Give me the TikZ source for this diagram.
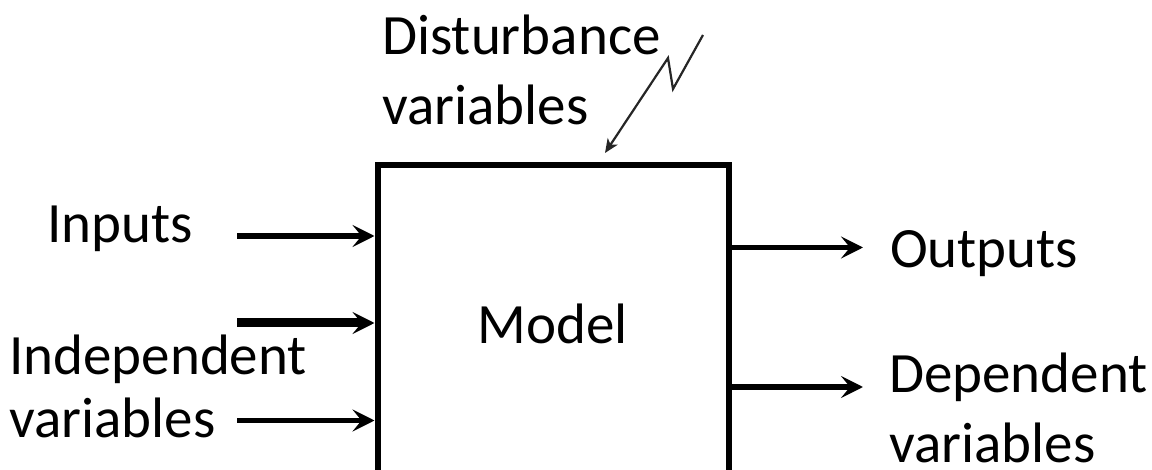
\documentclass[tikz,border=0pt]{standalone}
\usepackage{fontspec}
\setmainfont{Carlito}
\usetikzlibrary{arrows.meta}
\begin{document}
\begin{tikzpicture}[x=1pt,y=-1pt,
  lbl/.style={inner sep=0pt, anchor=base west, align=left, text depth=0pt, font=\fontsize{57}{70}\selectfont},
  lblnarrow/.style={lbl, font=\fontsize{57}{63}\selectfont},
  modelbox/.style={draw, line width=6pt, minimum width=351pt, minimum height=317pt, inner sep=0pt, font=\fontsize{57}{66}\selectfont},
  arr/.style={line width=5.5pt, -{Stealth[length=22pt,width=22pt,inset=9pt]}},
  thickarr/.style={arr, line width=9pt},
  disturb/.style={line width=2.2pt, black!85, line join=miter, -{Stealth[length=14pt,width=12pt,inset=4pt]}}
]
\useasboundingbox (0,0) rectangle (1152,470);
\clip (0,0) rectangle (1152,470);

\node[modelbox] (model) at (553,323.5) {Model};

% base anchor of a multi-line node = baseline of its last line
\node[lbl] (dist) at (382,125) {Disturbance\\variables};
\node[lbl] (inputs) at (47,243) {Inputs};
\node[lblnarrow] (indep) at (9,438) {Independent\\variables};
\node[lbl] (outputs) at (890,268) {Outputs};
\node[lbl] (dep) at (889,462) {Dependent\\variables};

\coordinate (i1) at (237,236);
\coordinate (i2) at (237,323);
\coordinate (i3) at (237,420.5);
\draw[arr] (i1) -- (i1 -| model.west);
\draw[thickarr] (i2) -- (i2 -| model.west);
\draw[arr] (i3) -- (i3 -| model.west);

\coordinate (o1) at (863,247.5);
\coordinate (o2) at (863,387);
\draw[arr] (model.east |- o1) -- (o1);
\draw[arr] (model.east |- o2) -- (o2);

\coordinate (d0) at (703,35);
\coordinate (d1) at (605,153);
\draw[disturb] (d0) -- (673,89) -- (668,58) -- (d1);
\end{tikzpicture}
\end{document}
